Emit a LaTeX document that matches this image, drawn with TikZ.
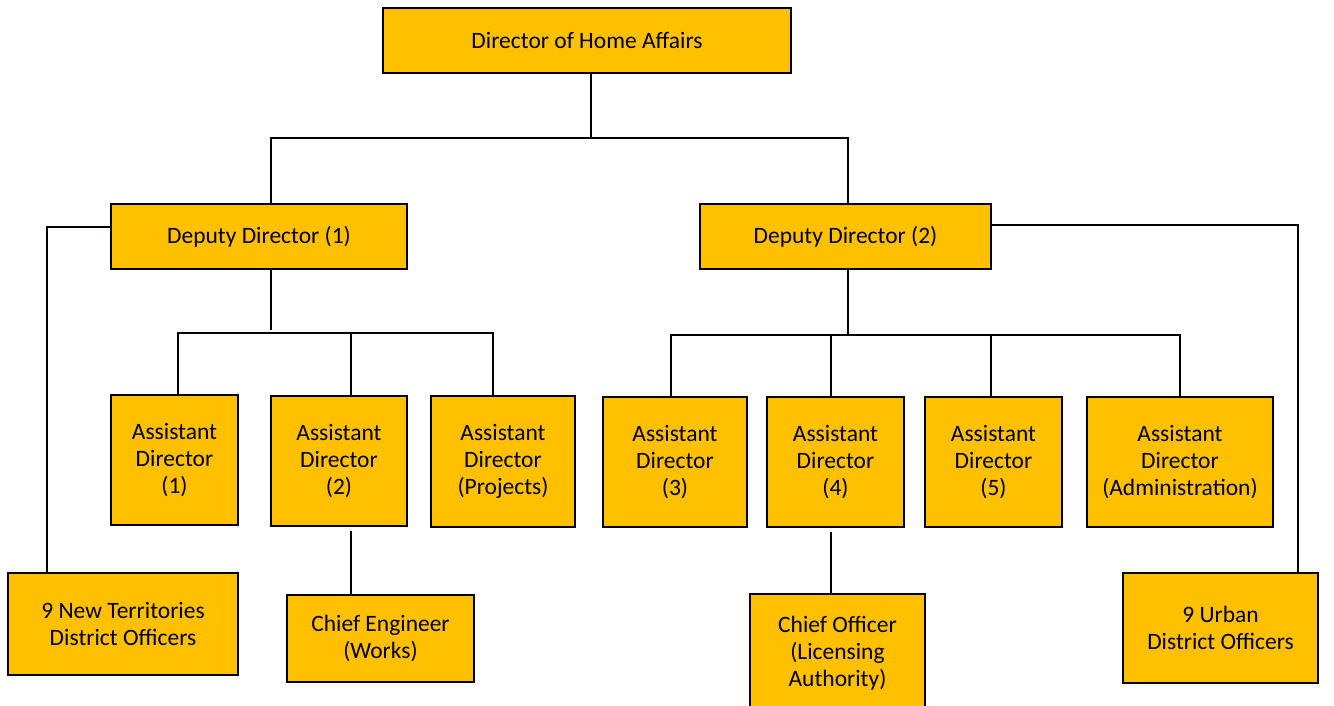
\documentclass[tikz,border=0pt]{standalone}
\usepackage{fontspec}
\setmainfont{Carlito}
\usetikzlibrary{positioning}
\definecolor{gold}{HTML}{FFC000}
\tikzset{
x=1pt, y=-1pt, % one unit is one pixel of the chart, y runs downwards
post/.style={draw, line width=2pt, fill=gold, align=center, inner sep=0pt, font=\fontsize{23.5}{27}\selectfont}, % every office box
link/.style={-, line width=1.6pt}, % the lines between offices
}

\begin{document}
\begin{tikzpicture}
        \useasboundingbox (0,0) rectangle (1334,706);

        \node[post, minimum width=408pt, minimum height=65pt] (dir) at (587, 40.5) {Director of Home Affairs};

        \node[post, minimum width=296pt, minimum height=65pt] (dd1) at (259, 236.5) {Deputy Director (1)};
        \node[post, minimum width=291pt, minimum height=65pt] (dd2) at (845.5, 236.5) {Deputy Director (2)};

        \node[post, minimum width=127pt, minimum height=130pt] (ad1) at (174.5, 460) {Assistant\\Director\\(1)};
        \node[post, minimum width=136pt, minimum height=130pt] (ad2) at (339, 461) {Assistant\\Director\\(2)};
        \node[post, minimum width=144pt, minimum height=131pt] (adp) at (503, 461.5) {Assistant\\Director\\(Projects)};
        \node[post, minimum width=144pt, minimum height=130pt] (ad3) at (675, 462) {Assistant\\Director\\(3)};
        \node[post, minimum width=137pt, minimum height=130pt] (ad4) at (835.5, 462) {Assistant\\Director\\(4)};
        \node[post, minimum width=137pt, minimum height=130pt] (ad5) at (993.5, 462) {Assistant\\Director\\(5)};
        \node[post, minimum width=186pt, minimum height=130pt] (adadm) at (1180, 462) {Assistant\\Director\\(Administration)};

        \node[post, minimum width=230pt, minimum height=102pt] (nt) at (123, 624) {9 New Territories\\District Officers};
        \node[post, minimum width=187pt, minimum height=87pt] (ce) at (380.5, 638.5) {Chief Engineer\\(Works)};
        \node[post, minimum width=175pt, minimum height=118pt] (co) at (837.5, 653) {Chief Officer\\(Licensing\\Authority)};
        \node[post, minimum width=195pt, minimum height=110pt] (urban) at (1220.5, 628) {9 Urban\\District Officers};

        % top level
        \draw[link] ([xshift=4pt]dir.south) -- ++(0,64) coordinate (split);
        \draw[link] (split) -| ([xshift=12pt]dd1.north);
        \draw[link] (split) -| ([xshift=2.5pt]dd2.north);

        % district officers hang off the deputies' sides
        \draw[link] ([yshift=9.5pt]dd1.west) -| ([xshift=-76pt]nt.north);
        \draw[link] ([yshift=11.5pt]dd2.east) -| ([xshift=77.5pt]urban.north);

        % under Deputy Director (1)
        \coordinate (a1) at ([xshift=3.5pt]ad1.north);
        \coordinate (a2) at ([xshift=12pt]ad2.north);
        \coordinate (ap) at ([xshift=-10pt]adp.north);
        \draw[link] ([xshift=12pt]dd1.south) -- ++(0,60);
        \draw[link] (a1) -- ++(0,-61) coordinate (bar1) -- (bar1 -| ap) -- (ap);
        \draw[link] (a2) -- (a2 |- bar1);
        \draw[link] (a2 |- ad2.south) ++(0,4) -- (a2 |- ce.north);

        % under Deputy Director (2)
        \draw[link] ([xshift=2.5pt]dd2.south) -- ++(0,65) coordinate (bar2);
        \draw[link] ([xshift=-4pt]ad3.north) |- (bar2 -| adadm.north) -- (adadm.north);
        \draw[link] ([xshift=-4.5pt]ad4.north) -- ([xshift=-4.5pt]ad4.north |- bar2);
        \draw[link] ([xshift=-2.5pt]ad5.north) -- ([xshift=-2.5pt]ad5.north |- bar2);
        \draw[link] ([xshift=-4.5pt]ad4.south) ++(0,4) -- ([xshift=-4.5pt]ad4.south |- co.north);
    \end{tikzpicture}
\end{document}
